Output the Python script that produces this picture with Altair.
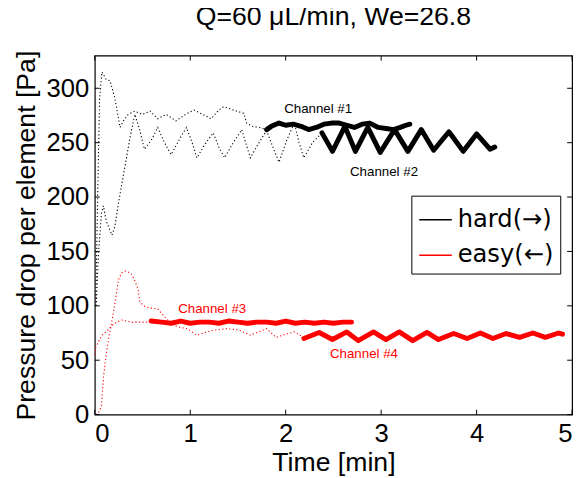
import altair as alt
import pandas as pd

# ---------------- data ----------------
# Channel #1 (hard) : transient (dotted) and steady (thick)
ch1_dot_t = [0.01, 0.03, 0.05, 0.075, 0.12, 0.16, 0.21, 0.265, 0.30, 0.35, 0.42, 0.50, 0.58, 0.66,
             0.75, 0.85, 0.95, 1.04, 1.13, 1.22, 1.30, 1.35, 1.45, 1.56, 1.59, 1.65, 1.72, 1.80]
ch1_dot_p = [100, 200, 290, 315, 308, 307, 291, 264, 270, 276, 279, 276, 279, 272,
             276, 270, 276, 280, 276, 272, 280, 283, 280, 277, 268, 265, 264, 262]
ch1_t = [1.80, 1.85, 1.93, 2.00, 2.08, 2.16, 2.24, 2.32, 2.40, 2.48, 2.56, 2.64, 2.72, 2.80,
         2.88, 2.97, 3.05, 3.13, 3.20, 3.26, 3.30]
ch1_p = [262, 265, 268, 266, 267, 265, 262, 264, 267, 268, 268, 266, 264, 267,
         268, 264, 263, 262, 264, 266, 267]

# Channel #2 (hard)
ch2_dot_t = [0.015, 0.04, 0.07, 0.09, 0.12, 0.18, 0.21, 0.265, 0.32, 0.37, 0.42, 0.47, 0.52, 0.59,
             0.66, 0.73, 0.80, 0.88, 0.96, 1.02, 1.07, 1.15, 1.24, 1.30, 1.36, 1.45, 1.54, 1.58,
             1.63, 1.72, 1.80, 1.87, 1.93, 2.01, 2.09, 2.14, 2.19, 2.28, 2.38]
ch2_dot_p = [100, 150, 185, 192, 178, 165, 173, 203, 230, 255, 276, 262, 244, 252,
             264, 250, 239, 252, 264, 250, 236, 248, 259, 246, 236, 250, 262, 250,
             236, 250, 261, 245, 232, 252, 268, 250, 236, 250, 259]
ch2_t = [2.38, 2.49, 2.62, 2.73, 2.86, 2.99, 3.14, 3.28, 3.42, 3.55, 3.71, 3.86, 4.00, 4.14, 4.19]
ch2_p = [259, 242, 265, 242, 264, 241, 262, 242, 262, 243, 260, 242, 258, 244, 246]

# Channel #3 (easy)
ch3_dot_t = [0.0, 0.01, 0.04, 0.075, 0.13, 0.18, 0.23, 0.28, 0.33, 0.39, 0.45, 0.52, 0.59]
ch3_dot_p = [55, 62, 67, 73, 77, 82, 85, 87, 86, 85, 85, 85, 85]
ch3_t = [0.59, 0.70, 0.80, 0.90, 1.00, 1.10, 1.20, 1.30, 1.40, 1.50, 1.60, 1.70, 1.80, 1.90,
         2.00, 2.10, 2.20, 2.30, 2.40, 2.50, 2.60, 2.69]
ch3_p = [86, 85, 84, 86, 84, 85, 85, 84, 86, 85, 84, 85, 85, 84,
         86, 84, 85, 84, 85, 84, 85, 85]

# Channel #4 (easy)
ch4_dot_t = [0.01, 0.04, 0.07, 0.093, 0.12, 0.145, 0.196, 0.248, 0.28, 0.317, 0.35, 0.386, 0.42,
             0.455, 0.47, 0.51, 0.558, 0.66, 0.75, 0.83, 0.90, 0.97, 1.07, 1.14, 1.21, 1.30,
             1.38, 1.50, 1.63, 1.72, 1.80, 1.90, 2.00, 2.09, 2.19]
ch4_dot_p = [0, 2, 8, 36, 55, 70, 94, 124, 130, 132, 131, 129, 123,
             115, 104.5, 100, 98.5, 97, 88, 82, 80, 79, 73, 75, 77, 78,
             79, 78, 73, 76, 79, 71, 74, 76, 71]
ch4_t = [2.19, 2.35, 2.49, 2.64, 2.76, 2.92, 3.05, 3.19, 3.33, 3.48, 3.60, 3.76, 3.90, 4.04,
         4.17, 4.31, 4.45, 4.59, 4.72, 4.86, 4.90]
ch4_p = [70, 75.5, 69, 76, 68, 76, 69, 76, 68, 75.5, 69, 74.5, 70, 75,
         70, 74.5, 71, 75, 71, 75, 74]

series_types = ["hard(→)", "easy(←)"]
series_colors = ["#000000", "#ff0000"]

ann_text = ["Channel #1", "Channel #2", "Channel #3", "Channel #4"]
ann_t = [2.34, 3.03, 1.23, 2.82]
ann_p = [280.5, 223, 97, 56]
ann_type = [series_types[0], series_types[0], series_types[1], series_types[1]]

title_text = "Q=60 μL/min, We=26.8"
x_ticks = [0, 1, 2, 3, 4, 5]
y_ticks = [0, 50, 100, 150, 200, 250, 300]

# ---------------- build tables ----------------
rows = []
def add(ts, ps, typ, seg, style):
    for t, p in zip(ts, ps):
        rows.append({"t": t, "p": p, "type": typ, "seg": seg, "style": style})

add(ch1_dot_t, ch1_dot_p, series_types[0], "c1d", "dot")
add(ch2_dot_t, ch2_dot_p, series_types[0], "c2d", "dot")
add(ch3_dot_t, ch3_dot_p, series_types[1], "c3d", "dot")
add(ch4_dot_t, ch4_dot_p, series_types[1], "c4d", "dot")
add(ch1_t, ch1_p, series_types[0], "c1", "thick")
add(ch2_t, ch2_p, series_types[0], "c2", "thick")
add(ch3_t, ch3_p, series_types[1], "c3", "thick")
add(ch4_t, ch4_p, series_types[1], "c4", "thick")
df = pd.DataFrame(rows)
ann = pd.DataFrame({"t": ann_t, "p": ann_p, "label": ann_text, "type": ann_type})
xt = pd.DataFrame({"t": x_ticks})
yt = pd.DataFrame({"p": y_ticks})

FONT = "Liberation Sans"
W, H = 484, 364
TICK = 5
xscale = alt.Scale(domain=[0, 5], nice=False)
yscale = alt.Scale(domain=[0, 330], nice=False)
cscale = alt.Scale(domain=series_types, range=series_colors)

# labelled axes (ticks are drawn inward by the rule layers below)
x_main = alt.Axis(orient="bottom", values=x_ticks, format="d", ticks=False, domain=False, grid=False,
                  labelFontSize=26, labelFont=FONT, labelColor="black", labelPadding=6,
                  title="Time [min]", titleFontSize=27, titleFont=FONT, titleFontWeight="normal",
                  titleColor="black", titlePadding=4)
y_main = alt.Axis(orient="left", values=y_ticks, format="d", ticks=False, domain=False, grid=False,
                  labelFontSize=26, labelFont=FONT, labelColor="black", labelPadding=6,
                  title="Pressure drop per element [Pa]", titleFontSize=27, titleFont=FONT,
                  titleFontWeight="normal", titleColor="black", titlePadding=6)

legend = alt.Legend(
    title=None, orient="none", legendX=321, legendY=142,
    symbolType="stroke", symbolSize=1089, symbolStrokeWidth=1.5,
    labelFontSize=24.5, labelFont="DejaVu Sans", labelColor="black", labelOffset=5,
    rowPadding=7, padding=7, fillColor="white", strokeColor="black",
    labelLimit=300,
)

base = alt.Chart(df)

# legend-only layer (thin solid line style, no rows drawn) carrying the labelled axes
legend_layer = base.transform_filter("false").mark_line(strokeWidth=1.5).encode(
    x=alt.X("t:Q", scale=xscale, axis=x_main),
    y=alt.Y("p:Q", scale=yscale, axis=y_main),
    color=alt.Color("type:N", scale=cscale, legend=legend),
    detail="seg:N",
)

dotted = base.transform_filter(alt.datum.style == "dot").mark_line(
    strokeWidth=1.1, strokeDash=[1.2, 2.4]
).encode(
    x=alt.X("t:Q", scale=xscale),
    y=alt.Y("p:Q", scale=yscale),
    color=alt.Color("type:N", scale=cscale),
    detail="seg:N",
)

thick = base.transform_filter(alt.datum.style == "thick").mark_line(
    strokeWidth=5, strokeJoin="round", strokeCap="round"
).encode(
    x=alt.X("t:Q", scale=xscale),
    y=alt.Y("p:Q", scale=yscale),
    color=alt.Color("type:N", scale=cscale),
    detail="seg:N",
)

lab_base = alt.Chart(ann).mark_text(font=FONT, fontSize=13.5, align="center", baseline="middle")
labels_black = lab_base.transform_filter(alt.datum.type == series_types[0]).encode(
    x=alt.X("t:Q", scale=xscale), y=alt.Y("p:Q", scale=yscale),
    text="label:N", color=alt.value(series_colors[0]),
)
labels_red = lab_base.transform_filter(alt.datum.type == series_types[1]).encode(
    x=alt.X("t:Q", scale=xscale), y=alt.Y("p:Q", scale=yscale),
    text="label:N", color=alt.value(series_colors[1]),
)

# inward tick marks on all four sides (MATLAB box style)
tick_style = dict(color="black", strokeWidth=1)
xt_bottom = alt.Chart(xt).mark_rule(**tick_style).encode(
    x=alt.X("t:Q", scale=xscale), y=alt.value(H), y2=alt.value(H - TICK))
xt_top = alt.Chart(xt).mark_rule(**tick_style).encode(
    x=alt.X("t:Q", scale=xscale), y=alt.value(0), y2=alt.value(TICK))
yt_left = alt.Chart(yt).mark_rule(**tick_style).encode(
    y=alt.Y("p:Q", scale=yscale), x=alt.value(0), x2=alt.value(TICK))
yt_right = alt.Chart(yt).mark_rule(**tick_style).encode(
    y=alt.Y("p:Q", scale=yscale), x=alt.value(W), x2=alt.value(W - TICK))

chart = alt.layer(
    legend_layer, dotted, thick, labels_black, labels_red,
    xt_bottom, xt_top, yt_left, yt_right,
).properties(
    width=W, height=H, background="white",
    title=alt.TitleParams(title_text, fontSize=27, font=FONT, fontWeight="normal",
                          color="black", anchor="middle", offset=19),
    autosize=alt.AutoSizeParams(type="none"),
    padding={"left": 88, "top": 45, "right": 6, "bottom": 62},
).configure_view(stroke="black", strokeWidth=1.2)

chart.save("out.html", embed_options={"renderer": "svg", "actions": False})
